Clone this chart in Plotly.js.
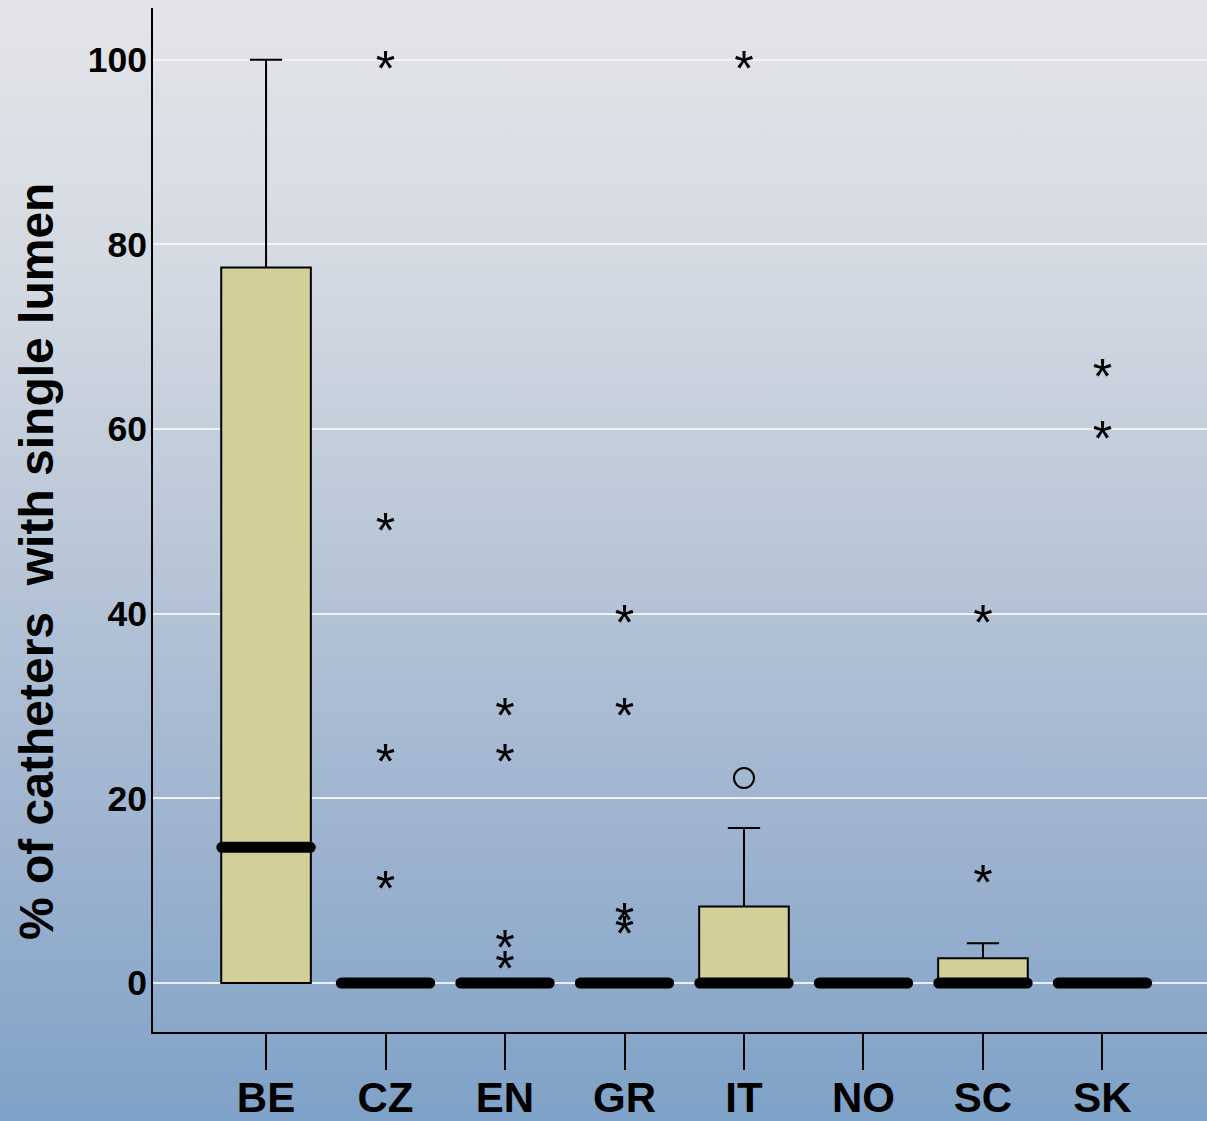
<!DOCTYPE html>
<html>
<head>
<meta charset="utf-8">
<script src="https://cdn.plot.ly/plotly-3.0.1.min.js"></script>
<style>
html,body{margin:0;padding:0;}
#chart{width:1207px;height:1121px;background:linear-gradient(to bottom,#e4e5e8 0%,#d3d9e2 25%,#b8c6d7 50%,#9db3cf 75%,#7fa2c8 100%);}
</style>
</head>
<body>
<div id="chart"></div>
<script>
// ---- data ----
const categories = ["BE","CZ","EN","GR","IT","NO","SC","SK"];
const q1         = [0,    0, 0, 0, 0,    0, 0,   0];
const medians    = [14.7, 0, 0, 0, 0,    0, 0,   0];
const q3         = [77.5, 0, 0, 0, 8.3,  0, 2.7, 0];
const lowerFence = [0,    0, 0, 0, 0,    0, 0,   0];
const upperFence = [100,  0, 0, 0, 16.8, 0, 4.3, 0];
// extreme values (asterisks)
const starCat = ["CZ","CZ","CZ","CZ","EN","EN","EN","EN","GR","GR","GR","GR","IT","SC","SC","SK","SK"];
const starVal = [100, 50, 25, 11.2, 30, 25, 4.8, 2.5, 40, 30, 7.7, 6.3, 100, 40, 11.9, 66.7, 60];
// outliers (circles)
const circCat = ["IT"];
const circVal = [22.2];
const yTicks = [0,20,40,60,80,100];

// ---- chart ----
const idx = categories.map((c,i)=>i);
const pos = c => categories.indexOf(c);
const half = 0.37;
const medX = [], medY = [];
medians.forEach((m,i)=>{ medX.push(i-half,i+half,null); medY.push(m,m,null); });
const FONT = 'Liberation Sans, Arial, sans-serif';

const traces = [
  {type:'box', x:idx, q1:q1, median:medians, q3:q3, lowerfence:lowerFence, upperfence:upperFence,
   width:0.75, whiskerwidth:0.36, fillcolor:'#d3cf98', line:{color:'#000',width:2},
   boxpoints:false, hoverinfo:'skip', showlegend:false},
  {type:'scatter', mode:'lines', x:medX, y:medY, line:{color:'#000',width:11},
   hoverinfo:'skip', showlegend:false, connectgaps:false},
  {type:'scatter', mode:'text', x:starCat.map(pos), y:starVal, text:starVal.map(()=> '*'),
   textposition:'middle center', textfont:{family:FONT, size:50, color:'#000'},
   hoverinfo:'skip', showlegend:false},
  {type:'scatter', mode:'markers', x:circCat.map(pos), y:circVal,
   marker:{symbol:'circle-open', size:20, color:'#000', line:{width:2,color:'#000'}},
   hoverinfo:'skip', showlegend:false}
];

const layout = {
  width:1207, height:1121,
  margin:{l:153, r:0, t:8, b:89},
  paper_bgcolor:'rgba(0,0,0,0)', plot_bgcolor:'rgba(0,0,0,0)',
  font:{family:FONT, color:'#000'},
  xaxis:{type:'linear', range:[-0.946,7.875], tickvals:idx, ticktext:categories,
    ticks:'outside', ticklen:36, tickwidth:2, tickcolor:'#000', ticklabelstandoff:-8,
    showline:true, linecolor:'#000', linewidth:2, showgrid:false, zeroline:false,
    tickfont:{size:42, family:FONT, weight:'bold', color:'#000'}},
  yaxis:{range:[-5.3,105.6], tickvals:yTicks, ticks:'', showline:true, linecolor:'#000', linewidth:2,
    ticklabelstandoff:-3,
    showgrid:true, gridcolor:'rgba(245,245,245,0.9)', gridwidth:2, zeroline:false,
    tickfont:{size:35.5, family:FONT, weight:'bold', color:'#000'}},
  annotations:[{text:'% of catheters  with single lumen', xref:'paper', yref:'paper',
    x:-0.110, y:0.459, xanchor:'center', yanchor:'middle', textangle:-90, showarrow:false,
    font:{size:48, family:FONT, weight:'bold', color:'#000'}}]
};

Plotly.newPlot('chart', traces, layout, {displayModeBar:false, staticPlot:true}).then(()=>{
  document.querySelectorAll('.scatterlayer .trace path.js-line').forEach(p=>{
    p.style.strokeLinecap='round';
  });
  // asterisk glyph sits high in its em box: nudge down so its centre lies on the value
  document.querySelectorAll('.scatterlayer .trace .textpoint text').forEach(t=>{
    t.setAttribute('transform','translate(0,14)');
  });
});
</script>
</body>
</html>
